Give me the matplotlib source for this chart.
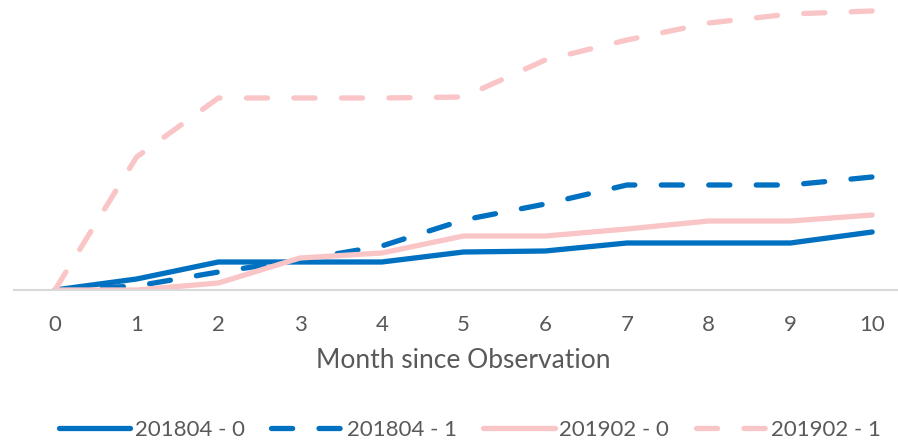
import matplotlib
matplotlib.use("Agg")
import matplotlib.pyplot as plt

months = list(range(11))
s_201804_0 = [0.00, 0.11, 0.28, 0.28, 0.28, 0.38, 0.39, 0.47, 0.47, 0.47, 0.58]
s_201804_1 = [0.00, 0.04, 0.18, 0.30, 0.44, 0.70, 0.86, 1.05, 1.05, 1.05, 1.13]
s_201902_0 = [0.00, 0.00, 0.07, 0.32, 0.37, 0.54, 0.54, 0.61, 0.69, 0.69, 0.75]
s_201902_1 = [0.00, 1.33, 1.92, 1.92, 1.92, 1.93, 2.30, 2.50, 2.67, 2.76, 2.79]
labels = ["201804 - 0", "201804 - 1", "201902 - 0", "201902 - 1"]

BLUE = "#0070C0"
PINK = "#F9C5C7"
TXT = "#595959"

plt.rcParams['font.family'] = ['Lato', 'DejaVu Sans']

W, H = 898, 442
fig = plt.figure(figsize=(W / 100, H / 100), dpi=100)
ax = fig.add_axes([14 / W, (H - 290) / H, 899 / W, 290 / H])

lw = 3.8
ax.plot(months, s_201804_0, color=BLUE, lw=lw, solid_capstyle='round', solid_joinstyle='round', label=labels[0])
ax.plot(months, s_201804_1, color=BLUE, lw=lw, dashes=(4, 5), dash_capstyle='round', label=labels[1])
ax.plot(months, s_201902_0, color=PINK, lw=lw, solid_capstyle='round', solid_joinstyle='round', label=labels[2])
ax.plot(months, s_201902_1, color=PINK, lw=lw, dashes=(4, 5), dash_capstyle='round', label=labels[3])

ax.set_xlim(-0.5, 10.5)
ax.set_ylim(0, 2.90)
for side in ['top', 'right', 'left']:
    ax.spines[side].set_visible(False)
ax.spines['bottom'].set_color('#D9D9D9')
ax.spines['bottom'].set_linewidth(1.5)
ax.set_yticks([])
ax.set_xticks(months)
ax.tick_params(axis='x', length=0, pad=18, labelsize=16, labelcolor=TXT)
ax.set_xlabel("Month since Observation", fontsize=19, color=TXT, labelpad=9)

leg = fig.legend(loc='center', bbox_to_anchor=(470 / W, 1 - 430 / H), ncol=4,
                 frameon=False, fontsize=16, handlelength=3.2, handletextpad=0.2,
                 columnspacing=1.2, labelcolor=TXT)

fig.savefig("out.png", dpi=100)
